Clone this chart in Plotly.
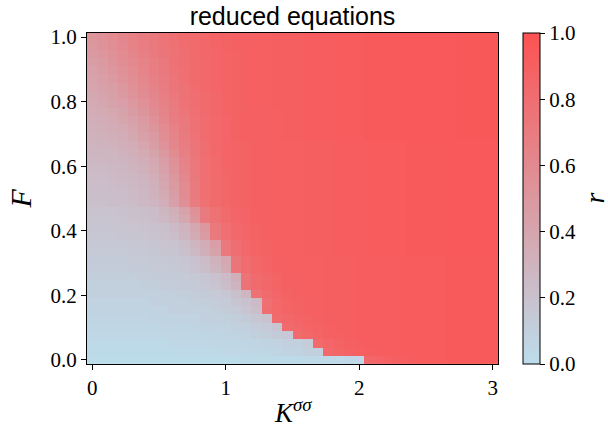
import plotly.graph_objects as go

# Grid (coupling K^{sigma sigma} on x, forcing F on y)
K_VALUES = [0.0, 0.077, 0.154, 0.231, 0.308, 0.385, 0.462, 0.538, 0.615, 0.692,
            0.769, 0.846, 0.923, 1.0, 1.077, 1.154, 1.231, 1.308, 1.385, 1.462,
            1.538, 1.615, 1.692, 1.769, 1.846, 1.923, 2.0, 2.077, 2.154, 2.231,
            2.308, 2.385, 2.462, 2.538, 2.615, 2.692, 2.769, 2.846, 2.923, 3.0]
F_VALUES = [0.0, 0.026, 0.051, 0.077, 0.103, 0.128, 0.154, 0.179, 0.205, 0.231,
            0.256, 0.282, 0.308, 0.333, 0.359, 0.385, 0.41, 0.436, 0.462, 0.487,
            0.513, 0.538, 0.564, 0.59, 0.615, 0.641, 0.667, 0.692, 0.718, 0.744,
            0.769, 0.795, 0.821, 0.846, 0.872, 0.897, 0.923, 0.949, 0.974, 1.0]

X_TICKS = [0, 1, 2, 3]
Y_TICKS = [0.0, 0.2, 0.4, 0.6, 0.8, 1.0]
CB_TICKS = [0.0, 0.2, 0.4, 0.6, 0.8, 1.0]

# common high-branch tails (columns 21..39)
TAIL_A = [0.90, 0.90, 0.91, 0.91, 0.91, 0.92, 0.92, 0.92, 0.92, 0.93, 0.93, 0.93, 0.93, 0.93, 0.94, 0.94, 0.94, 0.94, 0.94]
TAIL_B = [0.91, 0.91, 0.91, 0.92, 0.92, 0.92, 0.93, 0.93, 0.93, 0.93, 0.94, 0.94, 0.94, 0.94, 0.94, 0.95, 0.95, 0.95, 0.95]
TAIL_C = [0.92, 0.92, 0.92, 0.93, 0.93, 0.93, 0.94, 0.94, 0.94, 0.94, 0.95, 0.95, 0.95, 0.95, 0.95, 0.96, 0.96, 0.96, 0.96]

R_ROWS = [
    # row 0
    [0.01] * 15 + [0.02] * 6 + [0.03] * 4 + [0.04] * 2
    + [0.85, 0.87, 0.89, 0.91, 0.92, 0.93, 0.93, 0.93, 0.94, 0.94, 0.94, 0.94, 0.94],
    # row 1
    [0.02] * 9 + [0.03] * 4 + [0.04] * 3 + [0.05] * 2 + [0.06, 0.07, 0.08, 0.09, 0.10]
    + [0.84, 0.86, 0.88, 0.90, 0.91, 0.92, 0.92, 0.93, 0.93, 0.93, 0.93, 0.93, 0.94, 0.94, 0.94, 0.94, 0.94],
    # row 2
    [0.03] * 8 + [0.04] * 4 + [0.05] * 3 + [0.06] * 2 + [0.07, 0.08, 0.09, 0.10, 0.12]
    + [0.83, 0.86, 0.88, 0.89, 0.91, 0.92, 0.92, 0.92, 0.93, 0.93, 0.93, 0.93, 0.93, 0.94, 0.94, 0.94, 0.94, 0.94],
    # row 3
    [0.04] * 7 + [0.05] * 4 + [0.06] * 2 + [0.07] * 2 + [0.08, 0.09, 0.11, 0.13, 0.15]
    + [0.83, 0.85, 0.87, 0.89, 0.90, 0.91, 0.92, 0.92, 0.92, 0.92, 0.93, 0.93, 0.93, 0.93, 0.93, 0.94, 0.94, 0.94, 0.94, 0.94],
    # row 4
    [0.05] * 7 + [0.06] * 3 + [0.07] * 2 + [0.08] * 2 + [0.09, 0.10, 0.12, 0.14, 0.17]
    + [0.83, 0.85, 0.87, 0.88, 0.90, 0.91, 0.91, 0.92, 0.92, 0.92, 0.92, 0.93, 0.93, 0.93, 0.93, 0.93, 0.94, 0.94, 0.94, 0.94, 0.94],
    # row 5
    [0.06] * 6 + [0.07] * 3 + [0.08] * 2 + [0.09] * 2 + [0.10, 0.11, 0.13, 0.16, 0.19]
    + [0.82, 0.85, 0.87, 0.88, 0.89, 0.91, 0.91, 0.91, 0.92, 0.92, 0.92, 0.92, 0.93, 0.93, 0.93, 0.93, 0.93, 0.94, 0.94, 0.94, 0.94, 0.94],
    # row 6
    [0.07] * 6 + [0.08] * 2 + [0.09] * 2 + [0.10] * 2 + [0.11, 0.12, 0.14, 0.18, 0.23]
    + [0.80, 0.84, 0.87, 0.88, 0.89, 0.90, 0.91, 0.91, 0.91, 0.92, 0.92, 0.92, 0.92, 0.93, 0.93, 0.93, 0.93, 0.93, 0.94, 0.94, 0.94, 0.94, 0.94],
    # row 7
    [0.08] * 6 + [0.09] * 2 + [0.10] * 2 + [0.11] * 2 + [0.12, 0.14, 0.17, 0.20, 0.25]
    + [0.79, 0.84, 0.87, 0.88, 0.89, 0.90, 0.91, 0.91, 0.91, 0.92, 0.92, 0.92, 0.92, 0.93, 0.93, 0.93, 0.93, 0.93, 0.94, 0.94, 0.94, 0.94, 0.94],
    # row 8
    [0.09] * 5 + [0.10] * 3 + [0.11] * 2 + [0.12, 0.13, 0.14, 0.16, 0.21, 0.28]
    + [0.78, 0.83, 0.86, 0.88, 0.89] + TAIL_A,
    # row 9
    [0.10] * 5 + [0.11] * 2 + [0.12] * 2 + [0.13, 0.14, 0.15, 0.18, 0.23, 0.30]
    + [0.77, 0.82, 0.85, 0.87, 0.89, 0.90] + TAIL_A,
    # row 10
    [0.11] * 5 + [0.12] * 2 + [0.13] * 2 + [0.14, 0.15, 0.17, 0.20, 0.25, 0.33]
    + [0.76, 0.82, 0.85, 0.87, 0.89, 0.90] + TAIL_A,
    # row 11
    [0.12] * 4 + [0.13] * 2 + [0.14] * 2 + [0.15, 0.16, 0.19, 0.22, 0.28, 0.36]
    + [0.75, 0.81, 0.85, 0.87, 0.89, 0.90, 0.90] + TAIL_A,
    # row 12
    [0.13] * 4 + [0.14] * 2 + [0.15] * 2 + [0.16, 0.17, 0.20, 0.24, 0.31, 0.39]
    + [0.74, 0.81, 0.85, 0.87, 0.89, 0.90, 0.90] + TAIL_A,
    # row 13
    [0.14] * 4 + [0.15] * 2 + [0.16, 0.17, 0.18, 0.21, 0.26, 0.33, 0.42]
    + [0.73, 0.80, 0.84, 0.87, 0.88, 0.90, 0.90, 0.90] + TAIL_B,
    # row 14
    [0.15] * 4 + [0.16] * 2 + [0.17, 0.18, 0.19, 0.23, 0.28, 0.35, 0.45]
    + [0.73, 0.80, 0.84, 0.87, 0.88, 0.90, 0.90, 0.90] + TAIL_B,
    # row 15
    [0.16] * 3 + [0.17] * 2 + [0.18, 0.19, 0.20, 0.23, 0.28, 0.36, 0.47]
    + [0.72, 0.79, 0.84, 0.86, 0.88, 0.89, 0.90, 0.90, 0.90] + TAIL_B,
    # row 16
    [0.17] * 3 + [0.18] * 2 + [0.19, 0.20, 0.21, 0.25, 0.30, 0.38, 0.50]
    + [0.72, 0.79, 0.84, 0.86, 0.88, 0.89, 0.90, 0.90, 0.90] + TAIL_B,
    # row 17
    [0.18] * 3 + [0.19, 0.20, 0.21, 0.23, 0.26, 0.31, 0.39, 0.52]
    + [0.71, 0.78, 0.83, 0.86, 0.87, 0.89, 0.89, 0.90, 0.90, 0.90] + TAIL_B,
    # row 18
    [0.19] * 3 + [0.20, 0.21, 0.22, 0.24, 0.28, 0.33, 0.42, 0.55]
    + [0.71, 0.78, 0.83, 0.86, 0.87, 0.89, 0.89, 0.90, 0.90, 0.90] + TAIL_B,
    # row 19
    [0.21] * 2 + [0.22, 0.23, 0.24, 0.26, 0.29, 0.34, 0.43, 0.56]
    + [0.70, 0.78, 0.83, 0.85, 0.87, 0.88, 0.89, 0.89, 0.90, 0.90, 0.90] + TAIL_B,
    # row 20
    [0.22] * 2 + [0.23, 0.24, 0.25, 0.27, 0.31, 0.37, 0.46, 0.58]
    + [0.71, 0.79, 0.83, 0.85, 0.87, 0.88, 0.89, 0.89, 0.90, 0.90, 0.90] + TAIL_B,
    # row 21
    [0.23, 0.23, 0.24, 0.25, 0.26, 0.28, 0.32, 0.39, 0.48, 0.59, 0.71, 0.79, 0.83, 0.85, 0.87, 0.88, 0.89, 0.89, 0.90, 0.90, 0.90] + TAIL_B,
    # row 22
    [0.24, 0.24, 0.25, 0.26, 0.27, 0.30, 0.34, 0.41, 0.50, 0.61, 0.72, 0.79, 0.83, 0.85, 0.87, 0.88, 0.89, 0.89, 0.90, 0.90, 0.90] + TAIL_B,
    # row 23
    [0.25, 0.25, 0.26, 0.27, 0.29, 0.32, 0.37, 0.44, 0.53, 0.63, 0.73, 0.79, 0.83, 0.86, 0.87, 0.88, 0.89, 0.89, 0.90, 0.90, 0.90] + TAIL_B,
    # row 24
    [0.27, 0.27, 0.28, 0.29, 0.31, 0.34, 0.39, 0.46, 0.55, 0.65, 0.73, 0.79, 0.83, 0.86, 0.87, 0.88, 0.89, 0.89, 0.90, 0.90, 0.90] + TAIL_B,
    # row 25
    [0.28, 0.28, 0.29, 0.31, 0.33, 0.37, 0.42, 0.50, 0.59, 0.67, 0.74, 0.80, 0.84, 0.86, 0.87, 0.88, 0.89, 0.89, 0.90, 0.90, 0.90] + TAIL_B,
    # row 26
    [0.29, 0.30, 0.31, 0.33, 0.35, 0.40, 0.46, 0.54, 0.62, 0.69, 0.75, 0.80, 0.84, 0.86, 0.87, 0.88, 0.89, 0.89, 0.90, 0.90, 0.90] + TAIL_B,
    # row 27
    [0.31, 0.32, 0.33, 0.35, 0.38, 0.43, 0.49, 0.57, 0.64, 0.71, 0.76, 0.81, 0.84, 0.86, 0.88, 0.89, 0.89, 0.90, 0.90, 0.91, 0.91] + TAIL_C,
    # row 28
    [0.32, 0.33, 0.35, 0.37, 0.41, 0.46, 0.52, 0.59, 0.66, 0.72, 0.77, 0.81, 0.84, 0.86, 0.88, 0.89, 0.89, 0.90, 0.90, 0.91, 0.91] + TAIL_C,
    # row 29
    [0.34, 0.35, 0.37, 0.40, 0.44, 0.49, 0.55, 0.62, 0.68, 0.73, 0.78, 0.81, 0.84, 0.86, 0.88, 0.89, 0.89, 0.90, 0.90, 0.91, 0.91] + TAIL_C,
    # row 30
    [0.35, 0.37, 0.39, 0.42, 0.47, 0.52, 0.58, 0.64, 0.70, 0.75, 0.79, 0.82, 0.85, 0.87, 0.88, 0.89, 0.89, 0.90, 0.90, 0.91, 0.91] + TAIL_C,
    # row 31
    [0.37, 0.39, 0.42, 0.45, 0.50, 0.55, 0.61, 0.66, 0.71, 0.76, 0.80, 0.83, 0.85, 0.87, 0.88, 0.89, 0.90, 0.90, 0.91, 0.91, 0.91] + TAIL_C,
    # row 32
    [0.38, 0.41, 0.44, 0.48, 0.53, 0.58, 0.63, 0.68, 0.73, 0.77, 0.80, 0.83, 0.85, 0.87, 0.88, 0.89, 0.90, 0.90, 0.91, 0.91, 0.91] + TAIL_C,
    # row 33
    [0.40, 0.43, 0.46, 0.50, 0.55, 0.60, 0.65, 0.70, 0.74, 0.78, 0.81, 0.84, 0.86, 0.87, 0.88, 0.89, 0.90, 0.90, 0.91, 0.91, 0.91] + TAIL_C,
    # row 34
    [0.42, 0.45, 0.49, 0.53, 0.57, 0.62, 0.67, 0.71, 0.75, 0.79, 0.82, 0.84, 0.86, 0.87, 0.88, 0.89, 0.90, 0.90, 0.91, 0.91, 0.91] + TAIL_C,
    # row 35
    [0.44, 0.47, 0.51, 0.55, 0.59, 0.64, 0.68, 0.72, 0.76, 0.79, 0.82, 0.84, 0.86, 0.87, 0.88, 0.89, 0.90, 0.90, 0.91, 0.91, 0.91] + TAIL_C,
    # row 36
    [0.46, 0.49, 0.53, 0.57, 0.61, 0.65, 0.69, 0.73, 0.77, 0.80, 0.82, 0.84, 0.86, 0.87, 0.88, 0.89, 0.90, 0.90, 0.91, 0.91, 0.91] + TAIL_C,
    # row 37
    [0.48, 0.51, 0.55, 0.59, 0.63, 0.67, 0.71, 0.74, 0.77, 0.80, 0.83, 0.85, 0.86, 0.87, 0.88, 0.89, 0.90, 0.90, 0.91, 0.91, 0.91] + TAIL_C,
    # row 38
    [0.50, 0.53, 0.57, 0.61, 0.65, 0.68, 0.72, 0.75, 0.78, 0.81, 0.83, 0.85, 0.86, 0.88, 0.89, 0.89, 0.90, 0.90, 0.91, 0.91, 0.91] + TAIL_C,
    # row 39
    [0.52, 0.55, 0.59, 0.63, 0.66, 0.70, 0.73, 0.76, 0.79, 0.81, 0.83, 0.85, 0.87, 0.88, 0.89, 0.89, 0.90, 0.90, 0.91, 0.91, 0.91] + TAIL_C,
]

SERIF = "Liberation Serif, DejaVu Serif, serif"
SANS = "Liberation Sans, DejaVu Sans, sans-serif"

fig = go.Figure(
    go.Heatmap(
        x=K_VALUES,
        y=F_VALUES,
        z=R_ROWS,
        zmin=0,
        zmax=1,
        colorscale=[[0.0, "rgb(188,221,236)"], [1.0, "rgb(252,82,82)"]],
        colorbar=dict(
            x=1.061, xanchor="left", xpad=0,
            y=0.5, yanchor="middle", len=1.0, lenmode="fraction", ypad=0,
            thickness=17,
            outlinewidth=1, outlinecolor="black",
            tickvals=CB_TICKS, ticktext=[f"{v:.1f}" for v in CB_TICKS],
            ticks="outside", ticklen=5, tickwidth=1, tickcolor="black",
            tickfont=dict(family=SERIF, size=21, color="black"),
        ),
        hoverinfo="skip",
    )
)

axis_common = dict(
    showline=True, mirror=True, linecolor="black", linewidth=1,
    ticks="outside", ticklen=5, tickwidth=1, tickcolor="black",
    showgrid=False, zeroline=False,
    tickfont=dict(family=SERIF, size=21, color="black"),
)

fig.update_layout(
    width=608, height=429,
    margin=dict(l=87, r=110, t=33, b=65),
    paper_bgcolor="white", plot_bgcolor="white",
    title=dict(text="reduced equations", x=(87 + 498) / 2 / 608, xanchor="center",
               y=1 - 16 / 429, yanchor="middle", yref="container",
               font=dict(family=SANS, size=25, color="black")),
    xaxis=dict(range=[-0.03846, 3.03846], tickvals=X_TICKS,
               ticktext=[str(v) for v in X_TICKS], **axis_common),
    yaxis=dict(range=[-0.01282, 1.01282], tickvals=Y_TICKS,
               ticktext=[f"{v:.1f}" for v in Y_TICKS], **axis_common),
    annotations=[
        dict(text="<i>K</i><sup><i>σσ</i></sup>", xref="paper", yref="paper",
             x=0.5, y=0, xanchor="center", yanchor="middle", yshift=-47,
             showarrow=False, font=dict(family=SERIF, size=27, color="black")),
        dict(text="<i>F</i>", xref="paper", yref="paper",
             x=0, y=0.5, xanchor="center", yanchor="middle", xshift=-67,
             textangle=-90, showarrow=False,
             font=dict(family=SERIF, size=30, color="black")),
        dict(text="<i>r</i>", xref="paper", yref="paper",
             x=1, y=0.5, xanchor="center", yanchor="middle", xshift=96,
             textangle=-90, showarrow=False,
             font=dict(family=SERIF, size=28, color="black")),
    ],
)

fig.write_html("out.html")
